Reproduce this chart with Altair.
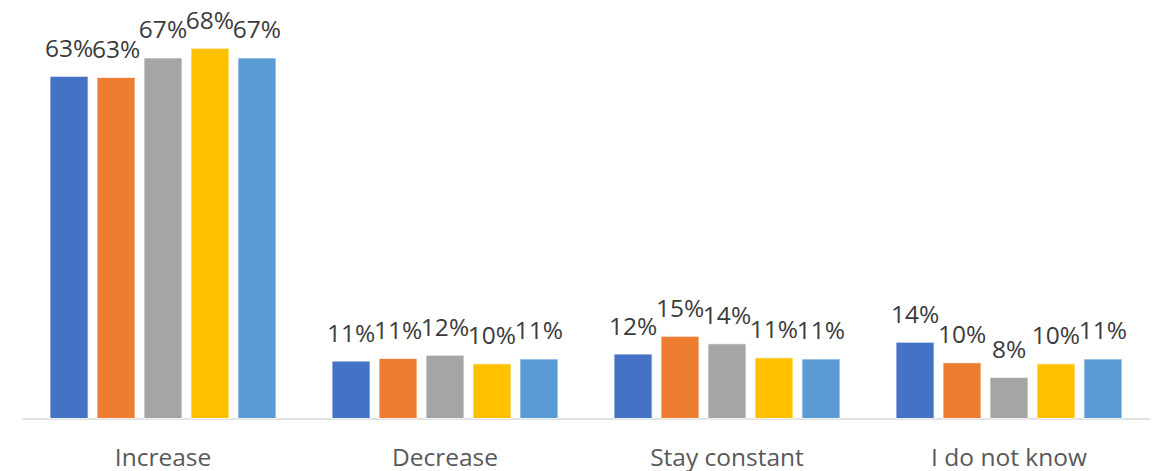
import altair as alt
import pandas as pd

categories = ["Increase", "Decrease", "Stay constant", "I do not know"]
series = ["Series 1", "Series 2", "Series 3", "Series 4", "Series 5"]
colors = ["#4472C4", "#ED7D31", "#A5A5A5", "#FFC000", "#5B9BD5"]
# percent values (labels show them rounded)
values = {
    "Series 1": [63.2, 10.6, 11.9, 14.1],
    "Series 2": [63.0, 11.1, 15.2, 10.3],
    "Series 3": [66.6, 11.7, 13.8, 7.6],
    "Series 4": [68.4, 10.1, 11.2, 10.1],
    "Series 5": [66.6, 11.0, 11.0, 11.0],
}

rows = []
for s in series:
    for c, v in zip(categories, values[s]):
        rows.append({"category": c, "series": s, "value": v,
                     "label": f"{round(v)}%"})
df = pd.DataFrame(rows)

x = alt.X("category:N", sort=categories, title=None,
          scale=alt.Scale(paddingInner=0.167, paddingOuter=0.0835),
          axis=alt.Axis(labelAngle=0, ticks=False, labelPadding=47,
                        labelBaseline="alphabetic", labelFontSize=24.5,
                        labelFont="Open Sans", labelColor="#595959",
                        domainColor="#D9D9D9", domainWidth=1.5, grid=False))
xo = alt.XOffset("series:N", sort=series,
                 scale=alt.Scale(paddingInner=0.19, paddingOuter=0.095))
y = alt.Y("value:Q", scale=alt.Scale(domain=[0, 70], nice=False), axis=None)
color = alt.Color("series:N", sort=series,
                  scale=alt.Scale(domain=series, range=colors), legend=None)

bars = alt.Chart(df).mark_bar(stroke="white", strokeWidth=0.8).encode(
    x=x, xOffset=xo, y=y, color=color)

labels = alt.Chart(df).mark_text(
    fontSize=24.5, font="Open Sans", color="#3b3b3b",
    baseline="alphabetic", dy=-19.5
).encode(x=x, xOffset=xo, y=y, text="label:N")

chart = alt.layer(bars, labels).properties(
    width=1128, height=379,
    autosize=alt.AutoSizeParams(type="none"),
    padding={"left": 14, "top": 31.5, "right": 8, "bottom": 54},
).configure(background="white").configure_view(stroke=None, strokeWidth=0)

chart.save("out.html", embed_options={"renderer": "svg", "actions": False})
